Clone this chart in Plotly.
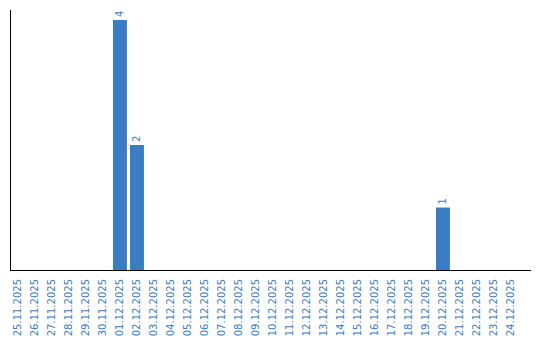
import plotly.graph_objects as go

dates = ["25.11.2025", "26.11.2025", "27.11.2025", "28.11.2025", "29.11.2025",
         "30.11.2025", "01.12.2025", "02.12.2025", "03.12.2025", "04.12.2025",
         "05.12.2025", "06.12.2025", "07.12.2025", "08.12.2025", "09.12.2025",
         "10.12.2025", "11.12.2025", "12.12.2025", "13.12.2025", "14.12.2025",
         "15.12.2025", "16.12.2025", "17.12.2025", "18.12.2025", "19.12.2025",
         "20.12.2025", "21.12.2025", "22.12.2025", "23.12.2025", "24.12.2025"]
counts = [0, 0, 0, 0, 0, 0, 4, 2, 0, 0, 0, 0, 0, 0, 0,
          0, 0, 0, 0, 0, 0, 0, 0, 0, 0, 1, 0, 0, 0, 0]

blue = "#3b7cc2"
labels = [str(v) if v else "" for v in counts]

fig = go.Figure(go.Bar(
    x=dates, y=counts, marker_color=blue, marker_line_width=0,
    text=labels, textposition="outside", textangle=-90,
    textfont=dict(family="DejaVu Sans", size=10, color=blue),
    cliponaxis=False,
))
fig.update_layout(
    width=540, height=340,
    margin=dict(l=11, r=9, t=10, b=70, autoexpand=False),
    paper_bgcolor="white", plot_bgcolor="white",
    bargap=0.18, showlegend=False,
    font=dict(family="DejaVu Sans", size=10, color=blue),
)
fig.update_xaxes(
    type="category", range=[-0.41, 30.18], tickangle=-90, automargin=False,
    showline=True, linecolor="black", linewidth=1, showgrid=False,
    ticks="outside", ticklen=4, tickcolor="rgba(0,0,0,0)",
    tickfont=dict(family="DejaVu Sans", size=10, color=blue),
)
fig.update_yaxes(
    range=[0, 4.16], showline=True, linecolor="black", linewidth=1, automargin=False,
    showgrid=False, showticklabels=False, zeroline=False, ticks="",
)
fig.write_html("out.html")
